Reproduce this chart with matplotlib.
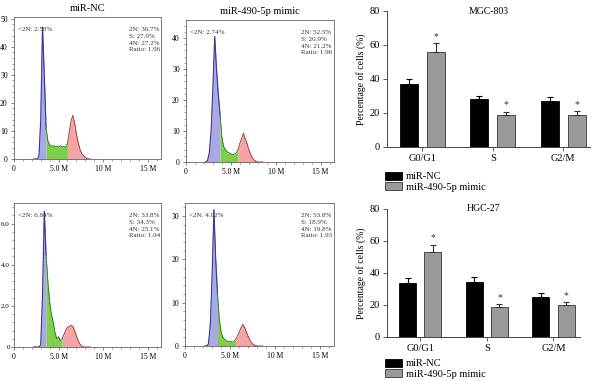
import numpy as np
import matplotlib
matplotlib.use('Agg')
import matplotlib.pyplot as plt
from matplotlib.patches import Patch

plt.rcParams['font.family'] = ['Liberation Serif', 'DejaVu Serif']

# DNA content grid (millions) shared by the four histograms
x_m = [2.2, 2.4, 2.6, 2.8, 3.0, 3.2, 3.4, 3.6, 3.8, 4.0, 4.2, 4.4, 4.6, 4.8,
       5.0, 5.2, 5.4, 5.6, 5.8, 6.0, 6.2, 6.4, 6.6, 6.8, 7.0, 7.2, 7.4, 7.6,
       7.8, 8.0, 8.2, 8.4, 8.6]

mgc_nc_counts = [0, 0, 0, 1, 14, 47, 30, 11, 6.5, 5, 4.5, 4.8, 4.4, 4.6,
                 4.2, 4.7, 4.3, 4.5, 4.1, 5.5, 9.5, 13.5, 15.5, 13, 9, 6, 3.5, 2,
                 1.2, 0.6, 0.2, 0, 0]
mgc_mim_counts = [0, 0.5, 3, 10, 24, 40.5, 30, 22, 15, 8, 5, 4, 3.3, 3,
                  2.6, 2.4, 2.5, 3, 4, 6, 7.5, 9.3, 7.5, 6, 4, 2.5, 1.3, 0.6,
                  0.2, 0, 0, 0, 0]
hgc_nc_counts = [0, 0, 0, 0, 0.1, 2.5, 6.6, 4.5, 3.2, 2.2, 1.6, 1.2, 0.7, 0.4,
                 0.5, 0.3, 0.4, 0.6, 0.8, 0.95, 1.0, 1.05, 1.0, 0.8, 0.55, 0.3, 0.15, 0.05,
                 0, 0, 0, 0, 0]
hgc_mim_counts = [0, 0, 0.5, 5, 16, 31.5, 20, 12, 6, 3.2, 2, 1.5, 1.2, 1.0,
                  1.1, 0.9, 1.0, 1.5, 2.3, 3.2, 4.2, 5, 4.3, 3.2, 2.2, 1.3, 0.7, 0.3,
                  0.1, 0, 0, 0, 0]

# bar chart data
phases = ['G0/G1', 'S', 'G2/M']
mgc_nc = [36.9, 28.0, 27.1]
mgc_nc_err = [3.3, 2.0, 2.1]
mgc_mim = [55.7, 18.8, 19.0]
mgc_mim_err = [5.3, 1.7, 1.9]
hgc_nc = [34.0, 34.5, 25.2]
hgc_nc_err = [2.9, 3.1, 2.0]
hgc_mim = [53.0, 19.0, 19.8]
hgc_mim_err = [4.8, 1.6, 1.8]

W, H = 600, 381


def box(x0, y0, x1, y1):
    return [x0 / W, 1 - y1 / H, (x1 - x0) / W, (y1 - y0) / H]


def draw_hist(ax, counts, b_end, s_end, ymax, yticks, ylabels, ystep,
              title, lt, rt):
    x = np.array(x_m)
    y = np.array(counts)
    blue = x <= b_end
    green = (x >= b_end) & (x <= s_end)
    red = x >= s_end
    ax.fill_between(x[blue], y[blue], color='#a9a9e3', lw=0)
    ax.plot(x[blue], y[blue], color='#3a3ab4', lw=0.8)
    ax.fill_between(x[green], y[green], color='#80cf4c', lw=0)
    ax.plot(x[green], y[green], color='#3a9e22', lw=0.6)
    ax.fill_between(x[red], y[red], color='#f4a4a4', lw=0)
    ax.plot(x[red], y[red], color='#c64040', lw=0.6)
    ax.plot(x, y, color='#333333', lw=0.5, ls=':')
    ax.set_xlim(0, 16.5)
    ax.set_ylim(0, ymax)
    ax.set_xticks([0, 5, 10, 15])
    ax.set_xticklabels(['0', '5.0 M', '10 M', '15 M'])
    ax.set_xticks(np.arange(0, 16.5, 1), minor=True)
    ax.set_yticks(yticks)
    ax.set_yticklabels(ylabels)
    ax.set_yticks(np.arange(0, ymax, ystep), minor=True)
    ax.tick_params(which='major', length=2.5, width=0.5, labelsize=5.5,
                   color='#555555', pad=2)
    ax.tick_params(which='minor', length=1.3, width=0.4, color='#555555')
    for s in ax.spines.values():
        s.set_color('#666666')
        s.set_linewidth(0.6)
    ax.set_title(title, fontsize=7.5, pad=4)
    ax.text(0.03, 0.9, lt, transform=ax.transAxes, fontsize=5, color='#333333')
    ax.text(0.78, 0.93, rt, transform=ax.transAxes, fontsize=5, va='top',
            linespacing=1.45, color='#333333')


def draw_bars(ax, nc, nc_err, mim, mim_err, title, xmax):
    idx = np.arange(len(phases))
    w = 0.255
    off = 0.19
    ax.bar(idx - off, nc, w, color='black', edgecolor='black', lw=0.6,
           yerr=[[0] * 3, nc_err], capsize=2.5,
           error_kw=dict(elinewidth=0.8, capthick=0.8, ecolor='black'))
    ax.bar(idx + off, mim, w, color='#9a9a9a', edgecolor='#333333', lw=0.6,
           yerr=[[0] * 3, mim_err], capsize=2.5,
           error_kw=dict(elinewidth=0.8, capthick=0.8, ecolor='#333333'))
    for i in idx:
        ax.text(i + off, mim[i] + mim_err[i] + 1.5, '*', ha='center',
                va='bottom', fontsize=7, color='#333333')
    ax.set_ylim(0, 80)
    ax.set_xlim(-0.5, xmax)
    ax.set_yticks([0, 20, 40, 60, 80])
    ax.set_xticks(idx)
    ax.set_xticklabels(phases)
    ax.tick_params(labelsize=7.5, length=3, width=0.6, color='#444444', pad=2)
    ax.spines['top'].set_visible(False)
    ax.spines['right'].set_visible(False)
    for s in ['left', 'bottom']:
        ax.spines[s].set_linewidth(0.7)
        ax.spines[s].set_color('#444444')
    ax.set_ylabel('Percentage of cells (%)', fontsize=7, labelpad=3)
    ax.text(0.5, 1.0, title, transform=ax.transAxes, ha='center', va='center',
            fontsize=7)


fig = plt.figure(figsize=(6, 3.81), dpi=100)

ax1 = fig.add_axes(box(14, 17, 161, 159))
draw_hist(ax1, mgc_nc_counts, 3.6, 6.0, 50.6, [0, 10, 20, 30, 40, 50],
          ['0', '10', '20', '30', '40', '50'], 2, 'miR-NC', '<2N: 2.58%',
          '2N: 36.7%\nS: 27.9%\n4N: 27.2%\nRatio: 1.96')

ax2 = fig.add_axes(box(186, 20, 334, 162))
draw_hist(ax2, mgc_mim_counts, 3.8, 5.8, 45.8, [0, 10, 20, 30, 40],
          ['0', '10', '20', '30', '40'], 2, 'miR-490-5p mimic', '<2N: 2.74%',
          '2N: 52.5%\nS: 20.9%\n4N: 21.2%\nRatio: 1.96')

ax3 = fig.add_axes(box(14, 203, 161, 347))
draw_hist(ax3, hgc_nc_counts, 3.6, 5.4, 7.0, [0, 2, 4, 6],
          ['0', '2.0', '4.0', '6.0'], 0.4, '', '<2N: 6.84%',
          '2N: 33.8%\nS: 34.3%\n4N: 25.1%\nRatio: 1.94')
ax3.tick_params(axis='y', which='major', length=2, pad=1, labelsize=5)

ax4 = fig.add_axes(box(185, 203, 334, 346))
draw_hist(ax4, hgc_mim_counts, 3.6, 5.6, 33.0, [0, 10, 20, 30],
          ['0', '10', '20', '30'], 2, '', '<2N: 4.02%',
          '2N: 53.8%\nS: 18.9%\n4N: 19.8%\nRatio: 1.93')

ax5 = fig.add_axes(box(387, 11, 590, 147))
draw_bars(ax5, mgc_nc, mgc_nc_err, mgc_mim, mgc_mim_err, 'MGC-803', 2.38)

ax6 = fig.add_axes(box(387, 209, 580, 337))
draw_bars(ax6, hgc_nc, hgc_nc_err, hgc_mim, hgc_mim_err, 'HGC-27', 2.4)

handles = [Patch(facecolor='black', edgecolor='black', lw=0.6),
           Patch(facecolor='#9a9a9a', edgecolor='#333333', lw=0.6)]
labels = ['miR-NC', 'miR-490-5p mimic']
for ytop in (172, 359):
    fig.legend(handles, labels, loc='upper left',
               bbox_to_anchor=(385 / W, 1 - ytop / H), frameon=False,
               fontsize=7.5, borderpad=0, borderaxespad=0, handlelength=1.6,
               handleheight=0.75, handletextpad=0.4, labelspacing=0.1)

fig.savefig('out.png', dpi=100)
